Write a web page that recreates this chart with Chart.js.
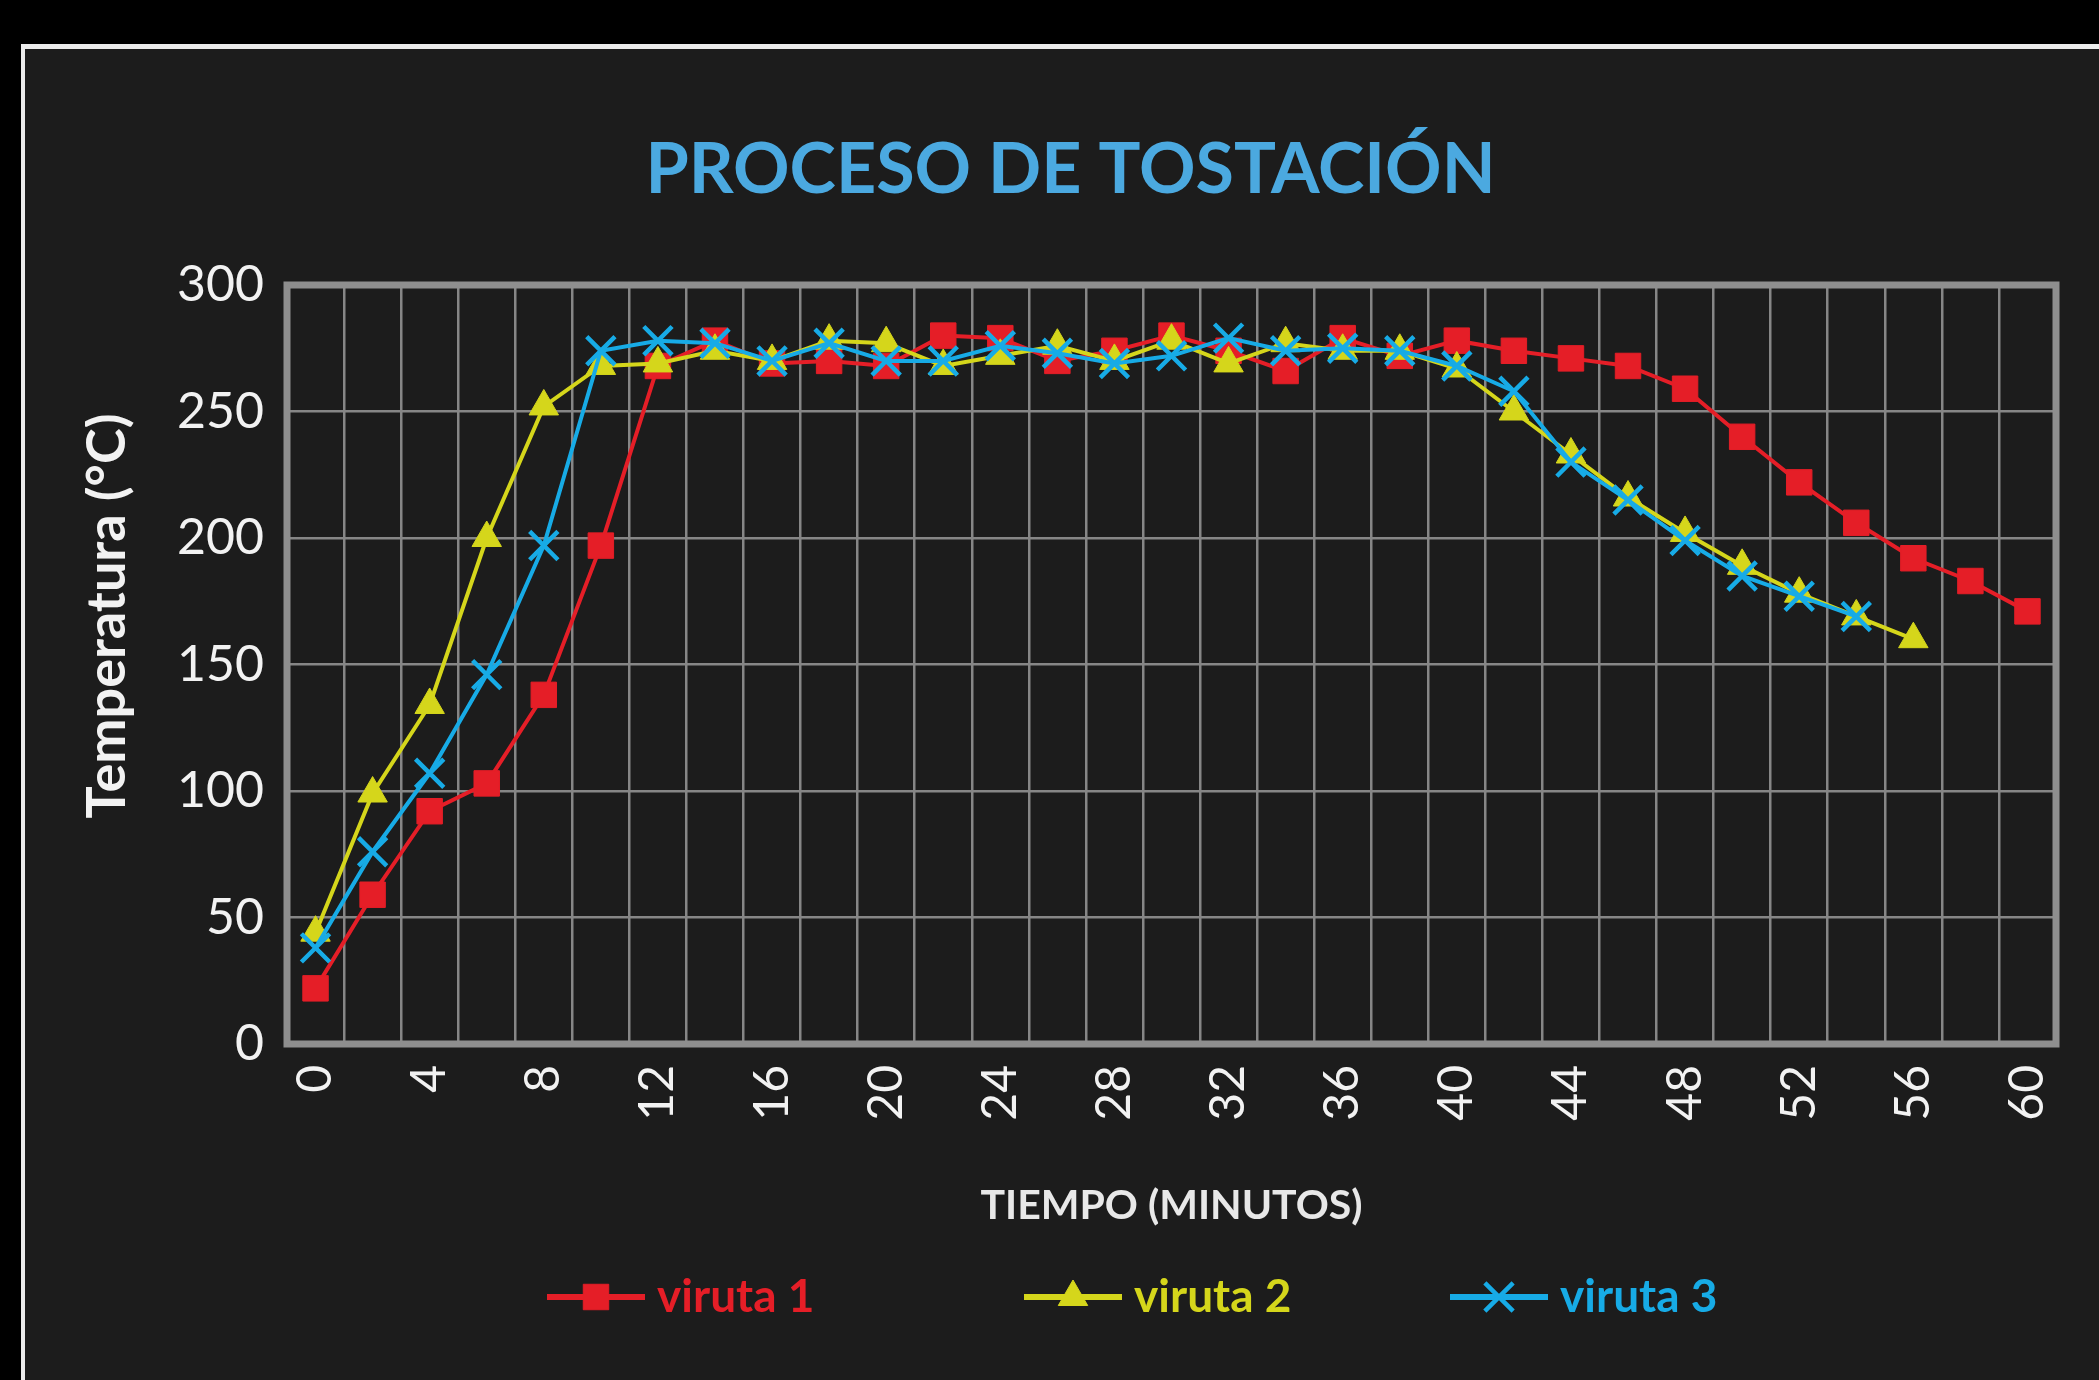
<!DOCTYPE html>
<html>
<head>
<meta charset="utf-8">
<script src="https://cdn.jsdelivr.net/npm/chart.js@4.4.1/dist/chart.umd.min.js"></script>
<style>
  html, body { margin: 0; padding: 0; background: #000; width: 2099px; height: 1380px; overflow: hidden; }
  #panel { position: absolute; left: 21px; top: 44px; width: 2078px; height: 1336px; background: #1c1c1c;
           border-left: 4px solid #ececec; border-top: 5px solid #ececec; box-sizing: border-box; }
  #c { position: absolute; left: 85px; top: 0; }
</style>
</head>
<body>
<div id="panel"></div>
<canvas id="c" width="2099" height="1380"></canvas>
<script>
// ---- data ----
const minutes = [0, 2, 4, 6, 8, 10, 12, 14, 16, 18, 20, 22, 24, 26, 28, 30, 32, 34, 36, 38, 40, 42, 44, 46, 48, 50, 52, 54, 56, 58, 60];
const xTickLabels = [0, 4, 8, 12, 16, 20, 24, 28, 32, 36, 40, 44, 48, 52, 56, 60];
const yTickValues = [0, 50, 100, 150, 200, 250, 300];
const seriesNames = ['viruta 1', 'viruta 2', 'viruta 3'];
const viruta1 = [22, 59, 92, 103, 138, 197, 268, 278, 269, 270, 268, 280, 279, 270, 274, 280, 274, 266, 279, 272, 278, 274, 271, 268, 259, 240, 222, 206, 192, 183, 171];
const viruta2 = [44, 99, 134, 200, 252, 268, 269, 274, 270, 278, 277, 268, 272, 276, 270, 278, 269, 277, 274, 274, 267, 250, 233, 216, 202, 189, 178, 169, 160];
const viruta3 = [38, 76, 107, 146, 197, 274, 278, 277, 270, 277, 270, 270, 276, 273, 269, 272, 279, 274, 275, 274, 268, 258, 230, 215, 199, 185, 177, 169];

// ---- styles ----
const RED = '#e51e27';
const YEL = '#d5d61b';
const BLU = '#17abe6';
const GRID = '#868686';
const FRAME = '#8e8e8e';
const TXT = '#f2f2f2';

const legendOffsets = [260, 737, 1163];

function drawMarker(ctx, style, r, bw, x, y) {
  if (Chart.helpers && Chart.helpers.drawPoint) {
    Chart.helpers.drawPoint(ctx, { pointStyle: style, radius: r, borderWidth: bw, rotation: 0 }, x, y);
  }
}

const decorPlugin = {
  id: 'decor',
  beforeDatasetsDraw(chart) {
    const { ctx, chartArea: a } = chart;
    ctx.save();
    ctx.strokeStyle = FRAME;
    ctx.lineWidth = 7;
    ctx.strokeRect(a.left, a.top, a.right - a.left, a.bottom - a.top);
    ctx.restore();
  },
  afterDraw(chart) {
    const { ctx, chartArea: a } = chart;
    // y axis title
    ctx.save();
    ctx.translate(a.left - 179, a.top + 331);
    ctx.rotate(-Math.PI / 2);
    ctx.font = 'bold 54px Lato';
    ctx.fillStyle = TXT;
    ctx.textAlign = 'center';
    ctx.textBaseline = 'middle';
    ctx.fillText('Temperatura (°C)', 0, 0);
    ctx.restore();
    // legend
    const ly = a.bottom + 253;
    chart.data.datasets.forEach((ds, i) => {
      const x0 = a.left + legendOffsets[i];
      ctx.save();
      ctx.strokeStyle = ds.borderColor;
      ctx.lineWidth = 6;
      ctx.beginPath();
      ctx.moveTo(x0, ly);
      ctx.lineTo(x0 + 98, ly);
      ctx.stroke();
      ctx.fillStyle = ds.pointBackgroundColor;
      ctx.strokeStyle = ds.pointBorderColor;
      ctx.lineWidth = ds.pointBorderWidth;
      drawMarker(ctx, ds.pointStyle, ds.pointRadius, ds.pointBorderWidth, x0 + 49, ly);
      ctx.font = 'bold 46px Lato';
      ctx.fillStyle = ds.borderColor;
      ctx.textAlign = 'left';
      ctx.textBaseline = 'middle';
      ctx.fillText(ds.label, x0 + 110, ly);
      ctx.restore();
    });
  }
};

new Chart(document.getElementById('c').getContext('2d'), {
  type: 'line',
  data: {
    labels: minutes.map(String),
    datasets: [
      { label: seriesNames[0], data: viruta1, order: 3, borderColor: RED, backgroundColor: RED,
        pointStyle: 'rect', pointRadius: 18, pointBackgroundColor: RED, pointBorderColor: RED, pointBorderWidth: 1,
        borderWidth: 4, tension: 0, fill: false },
      { label: seriesNames[1], data: viruta2, order: 2, borderColor: YEL, backgroundColor: YEL,
        pointStyle: 'triangle', pointRadius: 17, pointBackgroundColor: YEL, pointBorderColor: YEL, pointBorderWidth: 1,
        borderWidth: 4, tension: 0, fill: false },
      { label: seriesNames[2], data: viruta3, order: 1, borderColor: BLU, backgroundColor: BLU,
        pointStyle: 'crossRot', pointRadius: 20, pointBackgroundColor: BLU, pointBorderColor: BLU, pointBorderWidth: 4.5,
        borderWidth: 4, tension: 0, fill: false }
    ]
  },
  options: {
    responsive: false,
    animation: false,
    devicePixelRatio: 1,
    layout: { padding: { left: 0, right: 128, top: 0, bottom: 0 } },
    plugins: {
      legend: { display: false },
      tooltip: { enabled: false },
      title: {
        display: true, text: 'PROCESO DE TOSTACIÓN', color: '#4ba9e0',
        font: { family: 'Lato', size: 70, weight: 'bold', lineHeight: 1.2 },
        padding: { top: 128, bottom: 73 }
      }
    },
    scales: {
      x: {
        type: 'category', offset: true,
        grid: { offset: true, color: GRID, lineWidth: 2.5, drawTicks: false },
        border: { display: false },
        ticks: {
          autoSkip: false, maxRotation: 90, minRotation: 90, padding: 21, color: TXT,
          font: { family: 'Lato', size: 48 },
          callback: (v, i) => xTickLabels.includes(minutes[i]) ? String(minutes[i]) : ''
        },
        title: {
          display: true, text: 'TIEMPO (MINUTOS)', color: '#e8e8e8',
          font: { family: 'Lato', size: 41, weight: 'bold', lineHeight: 1.2 },
          padding: { top: 0, bottom: 150 }
        },
        afterFit: s => { s.height = 336; }
      },
      y: {
        min: yTickValues[0], max: yTickValues[yTickValues.length - 1],
        grid: { color: GRID, lineWidth: 2.5, drawTicks: false },
        border: { display: false },
        ticks: { stepSize: yTickValues[1] - yTickValues[0], padding: 23, color: TXT, font: { family: 'Lato', size: 50 } },
        afterFit: s => { s.width = 202; }
      }
    }
  },
  plugins: [decorPlugin]
});
</script>
</body>
</html>
